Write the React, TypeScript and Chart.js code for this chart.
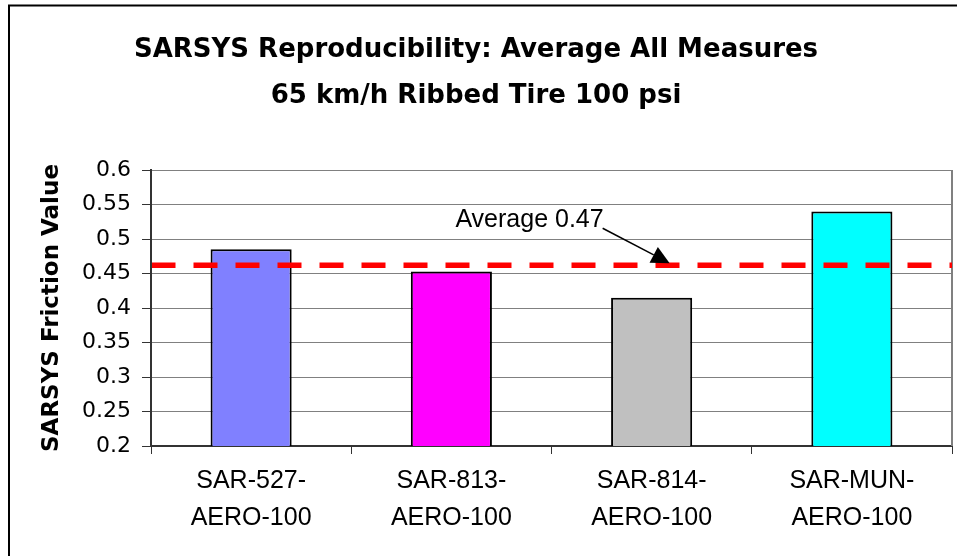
import { useEffect, useRef } from 'react';
import { Chart, registerables } from 'chart.js';

Chart.register(...registerables);

// ---- data ----
const CATEGORIES: string[][] = [
  ['SAR-527-', 'AERO-100'],
  ['SAR-813-', 'AERO-100'],
  ['SAR-814-', 'AERO-100'],
  ['SAR-MUN-', 'AERO-100'],
];
const FRICTION_VALUES: number[] = [0.485, 0.453, 0.415, 0.54];
const BAR_COLORS: string[] = ['#8080FF', '#FF00FF', '#C0C0C0', '#00FFFF'];
const AVERAGE_LINE_VALUE = 0.462;
const AVERAGE_LABEL = 'Average 0.47';
const ANNOTATION_TIP_INDEX = 2.09; // category position the arrow points at
const Y_MIN = 0.2;
const Y_MAX = 0.6;
const Y_STEP = 0.05;
const TITLE_LINES: string[] = [
  'SARSYS Reproducibility: Average All Measures',
  '65 km/h Ribbed Tire 100 psi',
];
const Y_TITLE = 'SARSYS Friction Value';

const formatTick = (v: number | string) => String(Math.round(Number(v) * 100) / 100);

const decorPlugin = {
  id: 'decor',
  beforeDraw(chart: any) {
    const { ctx, width, height } = chart;
    ctx.save();
    ctx.fillStyle = '#ffffff';
    ctx.fillRect(0, 0, width, height);
    // outer chart frame (left and top edges visible)
    ctx.strokeStyle = '#000000';
    ctx.lineWidth = 2;
    ctx.beginPath();
    ctx.moveTo(9, height + 10);
    ctx.lineTo(9, 5.5);
    ctx.lineTo(width + 10, 5.5);
    ctx.stroke();
    ctx.restore();
  },
  beforeDatasetsDraw(chart: any) {
    const { ctx, chartArea } = chart;
    ctx.save();
    ctx.strokeStyle = '#808080';
    ctx.lineWidth = 2;
    ctx.beginPath();
    ctx.moveTo(chartArea.right, chartArea.top);
    ctx.lineTo(chartArea.right, chartArea.bottom);
    ctx.stroke();
    ctx.restore();
  },
  afterDatasetsDraw(chart: any) {
    const { ctx, chartArea, scales } = chart;
    const y = scales.y.getPixelForValue(AVERAGE_LINE_VALUE);
    // dashed average line
    ctx.save();
    ctx.beginPath();
    ctx.rect(chartArea.left + 1, chartArea.top, chartArea.right - chartArea.left - 1, chartArea.bottom - chartArea.top);
    ctx.clip();
    ctx.strokeStyle = '#FF0000';
    ctx.lineWidth = 5.5;
    ctx.setLineDash([24, 18]);
    ctx.beginPath();
    ctx.moveTo(chartArea.left + 0.5, y);
    ctx.lineTo(chartArea.right, y);
    ctx.stroke();
    ctx.restore();

    // annotation arrow + label
    const tipX = scales.x.getPixelForValue(ANNOTATION_TIP_INDEX);
    const tipY = y - 2;
    const tailX = tipX - 67;
    const tailY = tipY - 35;
    const dx = tipX - tailX;
    const dy = tipY - tailY;
    const len = Math.sqrt(dx * dx + dy * dy);
    const ux = dx / len;
    const uy = dy / len;
    const headLen = 18;
    const half = 9;
    const bx = tipX - ux * headLen;
    const by = tipY - uy * headLen;
    ctx.save();
    ctx.strokeStyle = '#000000';
    ctx.fillStyle = '#000000';
    ctx.lineWidth = 1.5;
    ctx.beginPath();
    ctx.moveTo(tailX, tailY);
    ctx.lineTo(bx, by);
    ctx.stroke();
    ctx.beginPath();
    ctx.moveTo(tipX, tipY);
    ctx.lineTo(bx - uy * half, by + ux * half);
    ctx.lineTo(bx + uy * half, by - ux * half);
    ctx.closePath();
    ctx.fill();
    ctx.font = '25px "Liberation Sans"';
    ctx.textAlign = 'right';
    ctx.textBaseline = 'alphabetic';
    ctx.fillText(AVERAGE_LABEL, tailX + 1, tailY - 1.3);
    ctx.restore();
  },
};

export default function App() {
  const canvasRef = useRef<HTMLCanvasElement | null>(null);

  useEffect(() => {
    if (!canvasRef.current) return;
    const chart = new Chart(canvasRef.current, {
      type: 'bar',
      data: {
        labels: CATEGORIES,
        datasets: [
          {
            data: FRICTION_VALUES,
            backgroundColor: BAR_COLORS,
            borderColor: '#000000',
            borderWidth: 2,
            borderSkipped: false,
            barPercentage: 0.405,
            categoryPercentage: 1,
          },
        ],
      },
      options: {
        animation: false,
        responsive: false,
        devicePixelRatio: 1,
        layout: { padding: { left: 0, right: 5, top: 0, bottom: 0 } },
        plugins: {
          legend: { display: false },
          tooltip: { enabled: false },
          title: {
            display: true,
            text: TITLE_LINES,
            color: '#000000',
            font: { family: 'DejaVu Sans', size: 26, weight: 'bold', lineHeight: 46 / 26 },
            padding: { top: 27, bottom: 51 },
          },
        },
        scales: {
          x: {
            type: 'category',
            offset: true,
            grid: {
              display: true,
              drawOnChartArea: false,
              offset: true,
              tickLength: 8,
              color: '#333333',
              lineWidth: 1,
            },
            border: { display: true, color: '#333333', width: 2 },
            ticks: {
              color: '#000000',
              font: { family: 'Liberation Sans', size: 25, lineHeight: 1.468 },
              padding: 9,
              maxRotation: 0,
              minRotation: 0,
              autoSkip: false,
            },
            afterFit(scale: any) {
              scale.height = 110;
            },
          },
          y: {
            type: 'linear',
            min: Y_MIN,
            max: Y_MAX,
            ticks: {
              stepSize: Y_STEP,
              callback: (v: any) => formatTick(v),
              color: '#000000',
              font: { family: 'DejaVu Sans', size: 22 },
              padding: 11,
            },
            grid: { color: '#808080', tickColor: '#333333', tickLength: 9, lineWidth: 1 },
            border: { color: '#333333', width: 2 },
            title: {
              display: true,
              text: Y_TITLE,
              color: '#000000',
              font: { family: 'DejaVu Sans', size: 23, weight: 'bold', lineHeight: 1.2 },
              padding: { top: 38, bottom: 0 },
            },
            afterFit(scale: any) {
              scale.width = 151;
            },
          },
        },
      },
      plugins: [decorPlugin],
    });
    return () => chart.destroy();
  }, []);

  return (
    <div style={{ position: 'absolute', left: 0, top: 0, width: 957, height: 556 }}>
      <canvas ref={canvasRef} width={957} height={556} style={{ display: 'block', width: 957, height: 556 }} />
    </div>
  );
}
